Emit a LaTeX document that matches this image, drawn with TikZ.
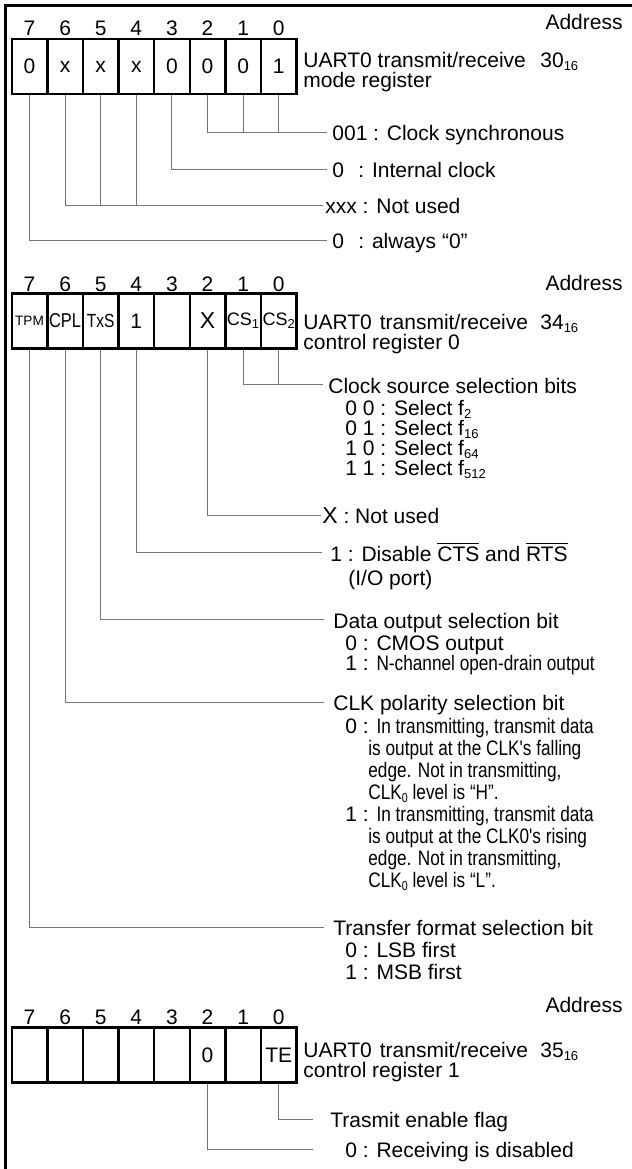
\documentclass[tikz,border=0pt]{standalone}
\usepackage{fontspec}
\setmainfont{Liberation Sans}
\newfontfamily\narrowfont[FakeStretch=0.82]{Liberation Sans}

\newcommand{\lowsub}[1]{\raisebox{-0.35ex}{\fontsize{6.5}{7}\selectfont #1}}

\tikzset{
  cell/.style={draw, line width=1.2pt, minimum width=17.8pt, minimum height=27.5pt,
    inner sep=0pt, font=\fontsize{10.5}{12}\selectfont},
  bitno/.style={anchor=base, inner sep=0pt, font=\fontsize{10.5}{12}\selectfont},
  txt/.style={anchor=base west, inner sep=0pt, font=\fontsize{10.5}{12}\selectfont},
  lead/.style={draw=black!55, line width=0.5pt},
}

\begin{document}
\begin{tikzpicture}[x=0.5pt, y=-0.5pt]
    \useasboundingbox (0,0) rectangle (632,1169);
    %
    \draw[line width=1.5pt] (5,1169) -- (5,5) -- (632,5);

    % register 30h
    \foreach \t [count=\i from 0] in {0,x,x,x,0,0,0,1} {
        \pgfmathtruncatemacro{\b}{7-\i}
        \node[cell] (a\b) at ({29.5+35.6*\i},66.5) {\t};
        \node[bitno] (na\b) at ({29.5+35.6*\i},35) {\b};
    }
    \node[txt, anchor=base east] (adr1) at (623,29) {Address};
    \node[txt] (ttl1) at (303,67) {UART0 transmit/receive};
    \node[txt] (ttl1b) at (303,87) {mode register};
    \node[txt] (val1) at (540,67) {30\lowsub{16}};

    \coordinate (e11) at (327,132);
    \coordinate (e12) at (327,169);
    \coordinate (e13) at (323,205);
    \coordinate (e14) at (327,240);

    \draw[lead] (a2.south) |- (e11);
    \draw[lead] (a1.south) -- (a1.south |- e11);
    \draw[lead] (a0.south) -- (a0.south |- e11);
    \draw[lead] (a3.south) |- (e12);
    \draw[lead] (a6.south) |- (e13);
    \draw[lead] (a5.south) -- (a5.south |- e13);
    \draw[lead] (a4.south) -- (a4.south |- e13);
    \draw[lead] (a7.south) |- (e14);

    \node[txt] (d11) at (332,140) {001 : Clock synchronous};
    \node[txt] (d12) at (332,177) {\makebox[13pt][l]{0}: Internal clock};
    \node[txt] (d13) at (325,213) {xxx : Not used};
    \node[txt] (d14) at (332,248) {\makebox[13pt][l]{0}: always “0”};

    % register 34h
    \foreach \t [count=\i from 0] in {{\fontsize{6.8}{8}\selectfont TPM},
        {\narrowfont\fontsize{10}{12}\selectfont CPL},
        {\narrowfont\fontsize{9.5}{12}\selectfont TxS}, 1, {},
        {\fontsize{11.5}{12}\selectfont X},
        {\fontsize{9}{12}\selectfont CS\lowsub{1}},
        {\fontsize{9}{12}\selectfont CS\lowsub{2}}} {
        \pgfmathtruncatemacro{\b}{7-\i}
        \node[cell] (b\b) at ({29.5+35.6*\i},321) {\t};
        \node[bitno] (nb\b) at ({29.5+35.6*\i},291) {\b};
    }
    \node[txt, anchor=base east] (adr2) at (623,290) {Address};
    \node[txt] (ttl2) at (303,329) {UART0\hspace{4pt}transmit/receive};
    \node[txt] (ttl2b) at (303,349) {control register 0};
    \node[txt] (val2) at (540,329) {34\lowsub{16}};

    \coordinate (e21) at (323,384);
    \coordinate (e22) at (321,515);
    \coordinate (e23) at (322,552);
    \coordinate (e24) at (324,619);
    \coordinate (e25) at (324,702);
    \coordinate (e26) at (324,927);

    \draw[lead] (b1.south) |- (e21);
    \draw[lead] (b0.south) -- (b0.south |- e21);
    \draw[lead] (b2.south) |- (e22);
    \draw[lead] (b4.south) |- (e23);
    \draw[lead] (b5.south) |- (e24);
    \draw[lead] (b6.south) |- (e25);
    \draw[lead] (b7.south) |- (e26);

    \node[txt] (d21) at (328,393) {Clock source selection bits};
    \node[txt] (d21a) at (345,415) {0 0 : Select f\lowsub{2}};
    \node[txt] (d21b) at (345,435) {0 1 : Select f\lowsub{16}};
    \node[txt] (d21c) at (345,455) {1 0 : Select f\lowsub{64}};
    \node[txt] (d21d) at (345,475) {1 1 : Select f\lowsub{512}};
    \node[txt] (d22) at (322,523) {{\fontsize{11.5}{12}\selectfont X} : Not used};
    \node[txt] (d23) at (330,561) {1 : Disable $\overline{\mbox{CTS}}$ and $\overline{\mbox{RTS}}$};
    \node[txt] (d23a) at (348,585) {(I/O port)};
    \node[txt] (d24) at (333,628) {Data output selection bit};
    \node[txt] (d24a) at (345,650) {0 : CMOS output};
    \node[txt] (d24b) at (345,670) {1 : {\narrowfont N-channel open-drain output}};
    \node[txt] (d25) at (333,710) {CLK polarity selection bit};
    \node[txt] (d25a) at (345,733) {0 : {\narrowfont In transmitting, transmit data}};
    \node[txt] (d25b) at (368,755) {\narrowfont is output at the CLK's falling};
    \node[txt] (d25c) at (368,777) {\narrowfont edge. Not in transmitting,};
    \node[txt] (d25d) at (368,799) {\narrowfont CLK\lowsub{0} level is “H”.};
    \node[txt] (d25e) at (345,821) {1 : {\narrowfont In transmitting, transmit data}};
    \node[txt] (d25f) at (368,843) {\narrowfont is output at the CLK0's rising};
    \node[txt] (d25g) at (368,865) {\narrowfont edge. Not in transmitting,};
    \node[txt] (d25h) at (368,887) {\narrowfont CLK\lowsub{0} level is “L”.};
    \node[txt] (d26) at (333,935) {Transfer format selection bit};
    \node[txt] (d26a) at (345,957) {0 : LSB first};
    \node[txt] (d26b) at (345,979) {1 : MSB first};

    % register 35h
    \foreach \t [count=\i from 0] in {{},{},{},{},{},0,{},TE} {
        \pgfmathtruncatemacro{\b}{7-\i}
        \node[cell] (c\b) at ({29.5+35.6*\i},1055) {\t};
        \node[bitno] (nc\b) at ({29.5+35.6*\i},1024) {\b};
    }
    \node[txt, anchor=base east] (adr3) at (623,1012) {Address};
    \node[txt] (ttl3) at (303,1057) {UART0\hspace{4pt}transmit/receive};
    \node[txt] (ttl3b) at (303,1077) {control register 1};
    \node[txt] (val3) at (540,1057) {35\lowsub{16}};

    \coordinate (e31) at (313,1119);
    \coordinate (e32) at (313,1149);

    \draw[lead] (c0.south) |- (e31);
    \draw[lead] (c2.south) |- (e32);

    \node[txt] (d31) at (330,1127) {Trasmit enable flag};
    \node[txt] (d32) at (345,1157) {0 : Receiving is disabled};

\end{tikzpicture}
\end{document}
